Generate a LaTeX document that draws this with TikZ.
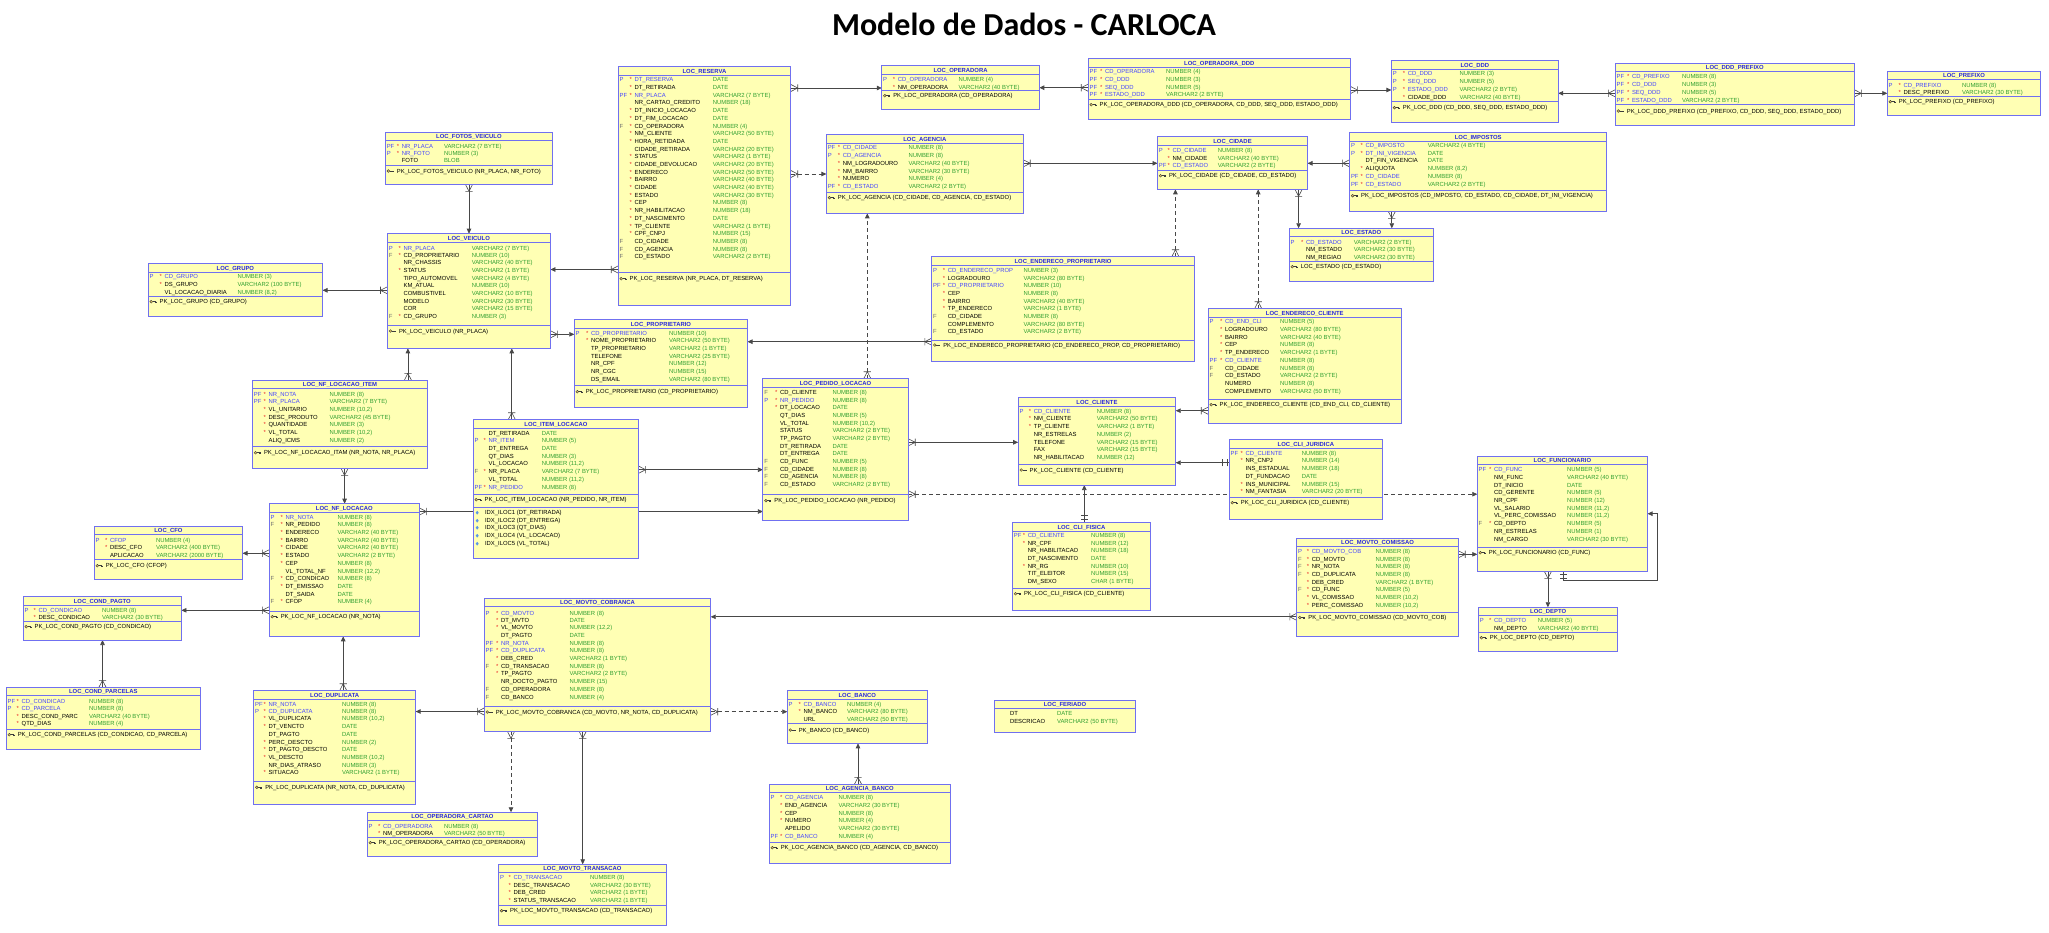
\documentclass[tikz,border=0pt]{standalone}
\usepackage{fontspec}
\setmainfont{Liberation Sans}
\newfontfamily\titlefont{Carlito}
\usetikzlibrary{arrows.meta,calc}
\pgfdeclarelayer{back}
\pgfdeclarelayer{lines}
\pgfsetlayers{back,lines,main}
\definecolor{boxfill}{RGB}{255,255,180}
\definecolor{boxline}{RGB}{112,112,240}
\definecolor{ttl}{RGB}{40,40,220}
\definecolor{pkc}{RGB}{70,70,255}
\definecolor{typc}{RGB}{50,160,50}
\definecolor{starc}{RGB}{235,40,40}
\definecolor{fmk}{RGB}{110,110,110}
\definecolor{relc}{RGB}{72,72,72}
\definecolor{keyc}{RGB}{60,60,60}
\definecolor{keyf}{RGB}{235,200,90}
\definecolor{idxc}{RGB}{90,150,230}
\tikzset{
  tbox/.style={draw=boxline, fill=boxfill, line width=0.9pt, inner sep=0pt, outer sep=0pt, rectangle, anchor=north west},
  tsep/.style={draw=boxline, line width=0.9pt},
  txt/.style={inner sep=0pt, outer sep=0pt, anchor=base west, font=\fontsize{5.9}{6}\selectfont},
  ttitle/.style={inner sep=0pt, outer sep=0pt, anchor=base, font=\fontsize{5.9}{6}\selectfont\bfseries, text=ttl},
  rel/.style={draw=relc, line width=0.75pt},
  opt/.style={rel, dash pattern=on 4pt off 3pt},
  tip/.style={-{Triangle[length=5pt,width=4.5pt]}},
  cfst/.style={draw=relc, line width=0.6pt},
  keyic/.pic={
    \draw[keyc, line width=0.4pt, fill=keyf] (-1.6,0) circle (1.4);
    \draw[keyc, line width=0.7pt] (-0.2,0) -- (3.4,0) (2.1,0) -- (2.1,1.3) (3.2,0) -- (3.2,1.3);
  },
  idxic/.pic={\fill[idxc] (0,-1.9) -- (1.5,0) -- (0,1.9) -- (-1.5,0) -- cycle;}
}
\newcount\tcnt
\newcommand\tput[4]{\global\advance\tcnt by 1\relax
  \node[txt,text=#3] (w\the\tcnt) at ({#1},{#2+2.1}) {#4};}
\newcommand\tb[9]{%
  \node[tbox,minimum width={#4pt-#2pt},minimum height={#5pt-#3pt}] (#1) at (#2,#3) {};
  \draw[tsep] (#2,#3+8.3) -- (#4,#3+8.3);
  \draw[tsep] (#2,#6) -- (#4,#6);
  \global\advance\tcnt by 1\relax
  \node[ttitle] (w\the\tcnt) at ({(#2+#4)/2},{#3+6.3}) {#7};
  \gdef\lx{#2}\gdef\nx{#8}\gdef\tx{#9}}
\newcommand\rowp[5]{\tput{\lx+1.4}{#1}{pkc}{#2}\tput{\nx-5}{#1}{starc}{#3}\tput{\nx}{#1}{pkc}{#4}\tput{\tx}{#1}{typc}{#5}}
\newcommand\rowf[4]{\tput{\lx+1.4}{#1}{fmk}{F}\tput{\nx-5}{#1}{starc}{#2}\tput{\nx}{#1}{black}{#3}\tput{\tx}{#1}{typc}{#4}}
\newcommand\rown[4]{\tput{\nx-5}{#1}{starc}{#2}\tput{\nx}{#1}{black}{#3}\tput{\tx}{#1}{typc}{#4}}
\newcommand\pkrow[2]{\pic at ({\lx+4.6},{#1}) {keyic}; \tput{\lx+11.5}{#1}{black}{#2}}
\newcommand\idxrow[2]{\pic at ({\lx+4},{#1}) {idxic}; \tput{\lx+11.8}{#1}{black}{#2}}
% crow's feet, named by the direction pointing away from the child box
\newcommand\cfE[1]{\draw[cfst] #1 ++(7,0) -- ++(-7,3.6) #1 ++(7,0) -- ++(-7,-3.6) #1 ++(7,3.6) -- ++(0,-7.2);}
\newcommand\cfW[1]{\draw[cfst] #1 ++(-7,0) -- ++(7,3.6) #1 ++(-7,0) -- ++(7,-3.6) #1 ++(-7,3.6) -- ++(0,-7.2);}
\newcommand\cfS[1]{\draw[cfst] #1 ++(0,7) -- ++(3.6,-7) #1 ++(0,7) -- ++(-3.6,-7) #1 ++(3.6,7) -- ++(-7.2,0);}
\newcommand\cfN[1]{\draw[cfst] #1 ++(0,-7) -- ++(3.6,7) #1 ++(0,-7) -- ++(-3.6,7) #1 ++(3.6,-7) -- ++(-7.2,0);}
\newcommand\obW[1]{\draw[cfst] #1 ++(-2.5,3.6) -- ++(0,-7.2) #1 ++(-7,3.6) -- ++(0,-7.2);}
\newcommand\obN[1]{\draw[cfst] #1 ++(3.6,-3) -- ++(-7.2,0) #1 ++(3.6,-7.3) -- ++(-7.2,0);}
\newcommand\obS[1]{\draw[cfst] #1 ++(3.6,3) -- ++(-7.2,0) #1 ++(3.6,6.5) -- ++(-7.2,0);}
\newcommand\cnE[3][rel]{\draw[#1,tip] #2 -- #3; \cfE{#2}}
\newcommand\cnW[3][rel]{\draw[#1,tip] #2 -- #3; \cfW{#2}}
\newcommand\cnS[3][rel]{\draw[#1,tip] #2 -- #3; \cfS{#2}}
\newcommand\cnN[3][rel]{\draw[#1,tip] #2 -- #3; \cfN{#2}}
\begin{document}
\catcode`\_=12
\begin{tikzpicture}[x=1pt,y=-1pt]
\useasboundingbox (0,0) rectangle (2049,932);
\begin{pgfonlayer}{back}
\fill[white] (0,0) rectangle (2049,932);
\end{pgfonlayer}
\node[font={\titlefont\fontsize{32}{36}\selectfont\bfseries}, anchor=base, inner sep=0pt] (title) at (1024,35) {Modelo de Dados - CARLOCA};

% ---------------- tables ----------------
\tb{fotos}{385.4}{132.3}{552.5}{184.3}{165}{LOC_FOTOS_VEICULO}{401.8}{444}
\rowp{146}{PF}{*}{NR_PLACA}{VARCHAR2 (7 BYTE)}
\rowp{153.7}{P}{*}{NR_FOTO}{NUMBER (3)}
\rown{160.7}{}{FOTO}{BLOB}
\pkrow{171}{PK_LOC_FOTOS_VEICULO (NR_PLACA, NR_FOTO)}

\tb{veic}{387.5}{233.7}{550.4}{348.3}{325.3}{LOC_VEICULO}{403.6}{471.8}
\rowp{248}{P}{*}{NR_PLACA}{VARCHAR2 (7 BYTE)}
\rowf{255.7}{*}{CD_PROPRIETARIO}{NUMBER (10)}
\rown{262.7}{}{NR_CHASSIS}{VARCHAR2 (40 BYTE)}
\rown{270.7}{*}{STATUS}{VARCHAR2 (1 BYTE)}
\rown{278.7}{}{TIPO_AUTOMOVEL}{VARCHAR2 (4 BYTE)}
\rown{285.7}{}{KM_ATUAL}{NUMBER (10)}
\rown{293.7}{}{COMBUSTIVEL}{VARCHAR2 (10 BYTE)}
\rown{301.7}{}{MODELO}{VARCHAR2 (30 BYTE)}
\rown{308.7}{}{COR}{VARCHAR2 (15 BYTE)}
\rowf{316.7}{*}{CD_GRUPO}{NUMBER (3)}
\pkrow{331}{PK_LOC_VEICULO (NR_PLACA)}

\tb{grupo}{148.2}{263.7}{322.5}{316.3}{296.7}{LOC_GRUPO}{164.6}{237.5}
\rowp{276.7}{P}{*}{CD_GRUPO}{NUMBER (3)}
\rown{284.7}{*}{DS_GRUPO}{VARCHAR2 (100 BYTE)}
\rown{292.7}{}{VL_LOCACAO_DIARIA}{NUMBER (8,2)}
\pkrow{301.7}{PK_LOC_GRUPO (CD_GRUPO)}

\tb{nfitem}{252.5}{380.3}{427.5}{468.3}{446.3}{LOC_NF_LOCACAO_ITEM}{268.6}{329.6}
\rowp{394.3}{PF}{*}{NR_NOTA}{NUMBER (8)}
\rowp{401.7}{PF}{*}{NR_PLACA}{VARCHAR2 (7 BYTE)}
\rown{409.7}{*}{VL_UNITARIO}{NUMBER (10,2)}
\rown{417.7}{*}{DESC_PRODUTO}{VARCHAR2 (45 BYTE)}
\rown{424.7}{*}{QUANTIDADE}{NUMBER (3)}
\rown{432.7}{*}{VL_TOTAL}{NUMBER (10,2)}
\rown{440.7}{}{ALIQ_ICMS}{NUMBER (2)}
\pkrow{452.7}{PK_LOC_NF_LOCACAO_ITAM (NR_NOTA, NR_PLACA)}

\tb{nf}{269.3}{503.7}{419.3}{636.3}{611.3}{LOC_NF_LOCACAO}{285.7}{337.5}
\rowp{517.7}{P}{*}{NR_NOTA}{NUMBER (8)}
\rowf{524.7}{*}{NR_PEDIDO}{NUMBER (8)}
\rown{532.7}{*}{ENDERECO}{VARCHAR2 (40 BYTE)}
\rown{540.7}{*}{BAIRRO}{VARCHAR2 (40 BYTE)}
\rown{547.7}{*}{CIDADE}{VARCHAR2 (40 BYTE)}
\rown{555.7}{*}{ESTADO}{VARCHAR2 (2 BYTE)}
\rown{563.7}{*}{CEP}{NUMBER (8)}
\rown{571.7}{}{VL_TOTAL_NF}{NUMBER (12,2)}
\rowf{578.7}{*}{CD_CONDICAO}{NUMBER (8)}
\rown{586.7}{*}{DT_EMISSAO}{DATE}
\rown{594.7}{}{DT_SAIDA}{DATE}
\rowf{601.7}{*}{CFOP}{NUMBER (4)}
\pkrow{616.7}{PK_LOC_NF_LOCACAO (NR_NOTA)}

\tb{cfo}{94.3}{526.3}{242.5}{579.3}{559.7}{LOC_CFO}{110}{156}
\rowp{540.7}{P}{*}{CFOP}{NUMBER (4)}
\rown{547.7}{*}{DESC_CFO}{VARCHAR2 (400 BYTE)}
\rown{555.7}{}{APLICACAO}{VARCHAR2 (2000 BYTE)}
\pkrow{565.7}{PK_LOC_CFO (CFOP)}

\tb{cpag}{23.2}{596.7}{181.4}{640}{621.7}{LOC_COND_PAGTO}{38.6}{102}
\rowp{610.7}{P}{*}{CD_CONDICAO}{NUMBER (8)}
\rown{617.7}{*}{DESC_CONDICAO}{VARCHAR2 (30 BYTE)}
\pkrow{626.7}{PK_LOC_COND_PAGTO (CD_CONDICAO)}

\tb{cparc}{6.3}{687.3}{200.3}{749.3}{729}{LOC_COND_PARCELAS}{21.7}{89}
\rowp{701.7}{PF}{*}{CD_CONDICAO}{NUMBER (8)}
\rowp{708.7}{P}{*}{CD_PARCELA}{NUMBER (8)}
\rown{716}{*}{DESC_COND_PARC}{VARCHAR2 (40 BYTE)}
\rown{723.7}{*}{QTD_DIAS}{NUMBER (4)}
\pkrow{734.7}{PK_LOC_COND_PARCELAS (CD_CONDICAO, CD_PARCELA)}

\tb{dup}{253.8}{690.7}{415.6}{804.3}{781}{LOC_DUPLICATA}{268.5}{342}
\rowp{704}{PF}{*}{NR_NOTA}{NUMBER (8)}
\rowp{711.7}{P}{*}{CD_DUPLICATA}{NUMBER (8)}
\rown{718.7}{*}{VL_DUPLICATA}{NUMBER (10,2)}
\rown{726.7}{*}{DT_VENCTO}{DATE}
\rown{734.7}{}{DT_PAGTO}{DATE}
\rown{742.7}{*}{PERC_DESCTO}{NUMBER (2)}
\rown{749.7}{*}{DT_PAGTO_DESCTO}{DATE}
\rown{757.7}{*}{VL_DESCTO}{NUMBER (10,2)}
\rown{765.7}{}{NR_DIAS_ATRASO}{NUMBER (3)}
\rown{772.7}{*}{SITUACAO}{VARCHAR2 (1 BYTE)}
\pkrow{787.3}{PK_LOC_DUPLICATA (NR_NOTA, CD_DUPLICATA)}

\tb{mcob}{484.3}{598.3}{710.7}{731.3}{706.3}{LOC_MOVTO_COBRANCA}{501}{569.6}
\rowp{613}{P}{*}{CD_MOVTO}{NUMBER (8)}
\rown{620.7}{*}{DT_MVTO}{DATE}
\rown{627.7}{*}{VL_MOVTO}{NUMBER (12,2)}
\rown{635.7}{}{DT_PAGTO}{DATE}
\rowp{643.7}{PF}{*}{NR_NOTA}{NUMBER (8)}
\rowp{650.7}{PF}{*}{CD_DUPLICATA}{NUMBER (8)}
\rown{658.7}{*}{DEB_CRED}{VARCHAR2 (1 BYTE)}
\rowf{666.7}{*}{CD_TRANSACAO}{NUMBER (8)}
\rown{673.7}{*}{TP_PAGTO}{VARCHAR2 (2 BYTE)}
\rown{681.7}{}{NR_DOCTO_PAGTO}{NUMBER (15)}
\rowf{689.7}{}{CD_OPERADORA}{NUMBER (8)}
\rowf{697.7}{}{CD_BANCO}{NUMBER (4)}
\pkrow{712}{PK_LOC_MOVTO_COBRANCA (CD_MOVTO, NR_NOTA, CD_DUPLICATA)}

\tb{opcart}{367.3}{812.3}{537.4}{856}{837}{LOC_OPERADORA_CARTAO}{383.1}{444}
\rowp{826.3}{P}{*}{CD_OPERADORA}{NUMBER (8)}
\rown{833.7}{*}{NM_OPERADORA}{VARCHAR2 (50 BYTE)}
\pkrow{842.7}{PK_LOC_OPERADORA_CARTAO (CD_OPERADORA)}

\tb{mtrans}{498.6}{864.3}{666.3}{925.3}{905.3}{LOC_MOVTO_TRANSACAO}{513.6}{590}
\rowp{877.7}{P}{*}{CD_TRANSACAO}{NUMBER (8)}
\rown{885.7}{*}{DESC_TRANSACAO}{VARCHAR2 (30 BYTE)}
\rown{892.7}{*}{DEB_CRED}{VARCHAR2 (1 BYTE)}
\rown{900.7}{*}{STATUS_TRANSACAO}{VARCHAR2 (1 BYTE)}
\pkrow{910.7}{PK_LOC_MOVTO_TRANSACAO (CD_TRANSACAO)}

\tb{banco}{787.3}{690.7}{927.3}{743.3}{723.3}{LOC_BANCO}{803.7}{847}
\rowp{704.7}{P}{*}{CD_BANCO}{NUMBER (4)}
\rown{711.7}{*}{NM_BANCO}{VARCHAR2 (80 BYTE)}
\rown{719.7}{}{URL}{VARCHAR2 (50 BYTE)}
\pkrow{730}{PK_BANCO (CD_BANCO)}

\tb{agbanco}{769.3}{784.3}{950.3}{863.3}{842.7}{LOC_AGENCIA_BANCO}{785}{838.7}
\rowp{797.7}{P}{*}{CD_AGENCIA}{NUMBER (8)}
\rown{805.7}{*}{END_AGENCIA}{VARCHAR2 (30 BYTE)}
\rown{813.3}{*}{CEP}{NUMBER (8)}
\rown{820.7}{*}{NUMERO}{NUMBER (4)}
\rown{828.7}{}{APELIDO}{VARCHAR2 (30 BYTE)}
\rowp{836.3}{PF}{*}{CD_BANCO}{NUMBER (4)}
\pkrow{847.7}{PK_LOC_AGENCIA_BANCO (CD_AGENCIA, CD_BANCO)}

\tb{feriado}{994.3}{700.3}{1135.7}{732.3}{708.6}{LOC_FERIADO}{1010}{1057}
\rown{713.7}{}{DT}{DATE}
\rown{721.7}{}{DESCRICAO}{VARCHAR2 (50 BYTE)}

\tb{reserva}{618.2}{66.7}{790.7}{305.3}{272.7}{LOC_RESERVA}{634.6}{712.9}
\rowp{79.7}{P}{*}{DT_RESERVA}{DATE}
\rown{87.7}{*}{DT_RETIRADA}{DATE}
\rowp{95.7}{PF}{*}{NR_PLACA}{VARCHAR2 (7 BYTE)}
\rown{102.7}{}{NR_CARTAO_CREDITO}{NUMBER (18)}
\rown{110.7}{*}{DT_INICIO_LOCACAO}{DATE}
\rown{118.7}{*}{DT_FIM_LOCACAO}{DATE}
\rowf{126.7}{*}{CD_OPERADORA}{NUMBER (4)}
\rown{133.7}{*}{NM_CLIENTE}{VARCHAR2 (50 BYTE)}
\rown{141.7}{*}{HORA_RETIDADA}{DATE}
\rown{149.7}{}{CIDADE_RETIRADA}{VARCHAR2 (20 BYTE)}
\rown{156.7}{*}{STATUS}{VARCHAR2 (1 BYTE)}
\rown{164.7}{*}{CIDADE_DEVOLUCAO}{VARCHAR2 (20 BYTE)}
\rown{172.7}{*}{ENDERECO}{VARCHAR2 (50 BYTE)}
\rown{179.7}{*}{BAIRRO}{VARCHAR2 (40 BYTE)}
\rown{187.7}{*}{CIDADE}{VARCHAR2 (40 BYTE)}
\rown{195.7}{*}{ESTADO}{VARCHAR2 (30 BYTE)}
\rown{202.7}{*}{CEP}{NUMBER (8)}
\rown{210.7}{*}{NR_HABILITACAO}{NUMBER (18)}
\rown{218.7}{*}{DT_NASCIMENTO}{DATE}
\rown{226.7}{*}{TP_CLIENTE}{VARCHAR2 (1 BYTE)}
\rown{233.7}{*}{CPF_CNPJ}{NUMBER (15)}
\rowf{241.7}{}{CD_CIDADE}{NUMBER (8)}
\rowf{249.7}{}{CD_AGENCIA}{NUMBER (8)}
\rowf{256.7}{}{CD_ESTADO}{VARCHAR2 (2 BYTE)}
\pkrow{278.7}{PK_LOC_RESERVA (NR_PLACA, DT_RESERVA)}

\tb{oper}{881.8}{65.7}{1039.3}{109.3}{90.3}{LOC_OPERADORA}{897.9}{958.6}
\rowp{79.7}{P}{*}{CD_OPERADORA}{NUMBER (4)}
\rown{87.7}{*}{NM_OPERADORA}{VARCHAR2 (40 BYTE)}
\pkrow{95.7}{PK_LOC_OPERADORA (CD_OPERADORA)}

\tb{agencia}{826.4}{134.7}{1023.2}{213.3}{192.3}{LOC_AGENCIA}{842.9}{908.6}
\rowp{147.7}{PF}{*}{CD_CIDADE}{NUMBER (8)}
\rowp{155.7}{P}{*}{CD_AGENCIA}{NUMBER (8)}
\rown{163.7}{*}{NM_LOGRADOURO}{VARCHAR2 (40 BYTE)}
\rown{171.7}{*}{NM_BAIRRO}{VARCHAR2 (30 BYTE)}
\rown{178.7}{*}{NUMERO}{NUMBER (4)}
\rowp{186.7}{PF}{*}{CD_ESTADO}{VARCHAR2 (2 BYTE)}
\pkrow{197.7}{PK_LOC_AGENCIA (CD_CIDADE, CD_AGENCIA, CD_ESTADO)}

\tb{prop}{574.3}{319.7}{747.5}{407.3}{385.7}{LOC_PROPRIETARIO}{591}{669}
\rowp{333.7}{P}{*}{CD_PROPRIETARIO}{NUMBER (10)}
\rown{340.7}{*}{NOME_PROPRIETARIO}{VARCHAR2 (50 BYTE)}
\rown{348.7}{}{TP_PROPRIETARIO}{VARCHAR2 (1 BYTE)}
\rown{356.7}{}{TELEFONE}{VARCHAR2 (25 BYTE)}
\rown{363.7}{}{NR_CPF}{NUMBER (12)}
\rown{371.7}{}{NR_CGC}{NUMBER (15)}
\rown{379.7}{}{DS_EMAIL}{VARCHAR2 (80 BYTE)}
\pkrow{391.7}{PK_LOC_PROPRIETARIO (CD_PROPRIETARIO)}

\tb{endprop}{931.8}{256.7}{1194.3}{361.7}{340}{LOC_ENDERECO_PROPRIETARIO}{947.9}{1023.6}
\rowp{270.7}{P}{*}{CD_ENDERECO_PROP}{NUMBER (3)}
\rown{278.7}{*}{LOGRADOURO}{VARCHAR2 (80 BYTE)}
\rowp{285.7}{PF}{*}{CD_PROPRIETARIO}{NUMBER (10)}
\rown{293.7}{*}{CEP}{NUMBER (8)}
\rown{301.7}{*}{BAIRRO}{VARCHAR2 (40 BYTE)}
\rown{308.7}{*}{TP_ENDERECO}{VARCHAR2 (1 BYTE)}
\rowf{316.7}{}{CD_CIDADE}{NUMBER (8)}
\rown{324.7}{}{COMPLEMENTO}{VARCHAR2 (80 BYTE)}
\rowf{331.7}{}{CD_ESTADO}{VARCHAR2 (2 BYTE)}
\pkrow{345}{PK_LOC_ENDERECO_PROPRIETARIO (CD_ENDERECO_PROP, CD_PROPRIETARIO)}

\tb{opddd}{1088.2}{58.7}{1350.4}{119.3}{99.3}{LOC_OPERADORA_DDD}{1105}{1166.1}
\rowp{71.7}{PF}{*}{CD_OPERADORA}{NUMBER (4)}
\rowp{79.7}{PF}{*}{CD_DDD}{NUMBER (3)}
\rowp{87.7}{PF}{*}{SEQ_DDD}{NUMBER (5)}
\rowp{94.7}{PF}{*}{ESTADO_DDD}{VARCHAR2 (2 BYTE)}
\pkrow{104.7}{PK_LOC_OPERADORA_DDD (CD_OPERADORA, CD_DDD, SEQ_DDD, ESTADO_DDD)}

\tb{ddd}{1391.4}{60.7}{1558.2}{122.3}{101.3}{LOC_DDD}{1407.9}{1459.6}
\rowp{73.7}{P}{*}{CD_DDD}{NUMBER (3)}
\rowp{81.7}{P}{*}{SEQ_DDD}{NUMBER (5)}
\rowp{89.7}{P}{*}{ESTADO_DDD}{VARCHAR2 (2 BYTE)}
\rown{97.7}{*}{CIDADE_DDD}{VARCHAR2 (40 BYTE)}
\pkrow{107.7}{PK_LOC_DDD (CD_DDD, SEQ_DDD, ESTADO_DDD)}

\tb{dddpref}{1615.3}{63.3}{1854.3}{125.3}{104.3}{LOC_DDD_PREFIXO}{1632}{1682}
\rowp{76.7}{PF}{*}{CD_PREFIXO}{NUMBER (8)}
\rowp{84.7}{PF}{*}{CD_DDD}{NUMBER (3)}
\rowp{92.7}{PF}{*}{SEQ_DDD}{NUMBER (5)}
\rowp{100.2}{PF}{*}{ESTADO_DDD}{VARCHAR2 (2 BYTE)}
\pkrow{111}{PK_LOC_DDD_PREFIXO (CD_PREFIXO, CD_DDD, SEQ_DDD, ESTADO_DDD)}

\tb{prefixo}{1887.3}{71.3}{2040.7}{115.3}{96.3}{LOC_PREFIXO}{1903.7}{1962}
\rowp{85.3}{P}{*}{CD_PREFIXO}{NUMBER (8)}
\rown{92.5}{*}{DESC_PREFIXO}{VARCHAR2 (30 BYTE)}
\pkrow{101.7}{PK_LOC_PREFIXO (CD_PREFIXO)}

\tb{cidade}{1157.5}{136.7}{1307.5}{189.3}{170}{LOC_CIDADE}{1172.5}{1217.9}
\rowp{150.7}{P}{*}{CD_CIDADE}{NUMBER (8)}
\rown{158.7}{*}{NM_CIDADE}{VARCHAR2 (40 BYTE)}
\rowp{165.7}{PF}{*}{CD_ESTADO}{VARCHAR2 (2 BYTE)}
\pkrow{175.7}{PK_LOC_CIDADE (CD_CIDADE, CD_ESTADO)}

\tb{impostos}{1349.6}{132.7}{1606.8}{211.3}{190.7}{LOC_IMPOSTOS}{1365.7}{1427.9}
\rowp{145.7}{P}{*}{CD_IMPOSTO}{VARCHAR2 (4 BYTE)}
\rowp{153.7}{P}{*}{DT_INI_VIGENCIA}{DATE}
\rown{160.7}{}{DT_FIN_VIGENCIA}{DATE}
\rown{168.7}{*}{ALIQUOTA}{NUMBER (8,2)}
\rowp{176.7}{PF}{*}{CD_CIDADE}{NUMBER (8)}
\rowp{184.7}{PF}{*}{CD_ESTADO}{VARCHAR2 (2 BYTE)}
\pkrow{195.7}{PK_LOC_IMPOSTOS (CD_IMPOSTO, CD_ESTADO, CD_CIDADE, DT_INI_VIGENCIA)}

\tb{estado}{1289.3}{228.3}{1433.2}{281.3}{261.7}{LOC_ESTADO}{1306}{1353.9}
\rowp{242.7}{P}{*}{CD_ESTADO}{VARCHAR2 (2 BYTE)}
\rown{249.7}{}{NM_ESTADO}{VARCHAR2 (30 BYTE)}
\rown{257.7}{}{NM_REGIAO}{VARCHAR2 (30 BYTE)}
\pkrow{266.7}{LOC_ESTADO (CD_ESTADO)}

\tb{endcli}{1208.2}{308.7}{1401.4}{423.3}{399}{LOC_ENDERECO_CLIENTE}{1225}{1280}
\rowp{321.7}{P}{*}{CD_END_CLI}{NUMBER (5)}
\rown{329.7}{*}{LOGRADOURO}{VARCHAR2 (80 BYTE)}
\rown{337.7}{*}{BAIRRO}{VARCHAR2 (40 BYTE)}
\rown{344.7}{*}{CEP}{NUMBER (8)}
\rown{352.7}{*}{TP_ENDERECO}{VARCHAR2 (1 BYTE)}
\rowp{360.7}{PF}{*}{CD_CLIENTE}{NUMBER (8)}
\rowf{368.7}{}{CD_CIDADE}{NUMBER (8)}
\rowf{375.7}{}{CD_ESTADO}{VARCHAR2 (2 BYTE)}
\rown{383.7}{}{NUMERO}{NUMBER (8)}
\rown{391.7}{}{COMPLEMENTO}{VARCHAR2 (50 BYTE)}
\pkrow{404.7}{PK_LOC_ENDERECO_CLIENTE (CD_END_CLI, CD_CLIENTE)}

\tb{cliente}{1018.2}{397.7}{1175.7}{485}{464.3}{LOC_CLIENTE}{1033.9}{1096.8}
\rowp{411.3}{P}{*}{CD_CLIENTE}{NUMBER (8)}
\rown{418.7}{*}{NM_CLIENTE}{VARCHAR2 (50 BYTE)}
\rown{426.7}{*}{TP_CLIENTE}{VARCHAR2 (1 BYTE)}
\rown{434.7}{}{NR_ESTRELAS}{NUMBER (2)}
\rown{442.7}{}{TELEFONE}{VARCHAR2 (15 BYTE)}
\rown{449.7}{}{FAX}{VARCHAR2 (15 BYTE)}
\rown{457.7}{}{NR_HABILITACAO}{NUMBER (12)}
\pkrow{470}{PK_LOC_CLIENTE (CD_CLIENTE)}

\tb{clij}{1229.3}{439.7}{1382.5}{519.3}{497.3}{LOC_CLI_JURIDICA}{1245.7}{1301.8}
\rowp{453.7}{PF}{*}{CD_CLIENTE}{NUMBER (8)}
\rown{460.7}{*}{NR_CNPJ}{NUMBER (14)}
\rown{468.7}{}{INS_ESTADUAL}{NUMBER (18)}
\rown{476.7}{}{DT_FUNDACAO}{DATE}
\rown{484.7}{*}{INS_MUNICIPAL}{NUMBER (15)}
\rown{491.7}{*}{NM_FANTASIA}{VARCHAR2 (20 BYTE)}
\pkrow{502.7}{PK_LOC_CLI_JURIDICA (CD_CLIENTE)}

\tb{clif}{1012.5}{522.7}{1150.4}{610.3}{588.3}{LOC_CLI_FISICA}{1027.9}{1091}
\rowp{535.7}{PF}{*}{CD_CLIENTE}{NUMBER (8)}
\rown{543.7}{*}{NR_CPF}{NUMBER (12)}
\rown{550.7}{}{NR_HABILITACAO}{NUMBER (18)}
\rown{558.7}{}{DT_NASCIMENTO}{DATE}
\rown{566.7}{*}{NR_RG}{NUMBER (10)}
\rown{573.7}{}{TIT_ELEITOR}{NUMBER (15)}
\rown{581.7}{}{DM_SEXO}{CHAR (1 BYTE)}
\pkrow{593.7}{PK_LOC_CLI_FISICA (CD_CLIENTE)}

\tb{mcom}{1296.8}{538.3}{1458.2}{636}{612.3}{LOC_MOVTO_COMISSAO}{1311.8}{1375.7}
\rowp{551.7}{P}{*}{CD_MOVTO_COB}{NUMBER (8)}
\rowf{559.7}{*}{CD_MOVTO}{NUMBER (8)}
\rowf{566.7}{*}{NR_NOTA}{NUMBER (8)}
\rowf{574.7}{*}{CD_DUPLICATA}{NUMBER (8)}
\rown{582.7}{*}{DEB_CRED}{VARCHAR2 (1 BYTE)}
\rowf{589.7}{*}{CD_FUNC}{NUMBER (5)}
\rown{597.7}{*}{VL_COMISSAO}{NUMBER (10,2)}
\rown{605.7}{*}{PERC_COMISSAO}{NUMBER (10,2)}
\pkrow{617.5}{PK_LOC_MOVTO_COMISSAO (CD_MOVTO_COB)}

\tb{func}{1477.3}{456.3}{1647.5}{571.3}{547.3}{LOC_FUNCIONARIO}{1494.2}{1567.1}
\rowp{469.7}{PF}{*}{CD_FUNC}{NUMBER (5)}
\rown{477.7}{}{NM_FUNC}{VARCHAR2 (40 BYTE)}
\rown{485.7}{}{DT_INICIO}{DATE}
\rown{492.7}{}{CD_GERENTE}{NUMBER (5)}
\rown{500.7}{}{NR_CPF}{NUMBER (12)}
\rown{508.7}{}{VL_SALARIO}{NUMBER (11,2)}
\rown{515.7}{}{VL_PERC_COMISSAO}{NUMBER (11,2)}
\rowf{523.7}{*}{CD_DEPTO}{NUMBER (5)}
\rown{531.7}{}{NR_ESTRELAS}{NUMBER (1)}
\rown{539.7}{}{NM_CARGO}{VARCHAR2 (30 BYTE)}
\pkrow{552.7}{PK_LOC_FUNCIONARIO (CD_FUNC)}

\tb{depto}{1478.4}{607.3}{1617.8}{651.3}{632.3}{LOC_DEPTO}{1494.2}{1537.8}
\rowp{620.7}{P}{*}{CD_DEPTO}{NUMBER (5)}
\rown{628.7}{}{NM_DEPTO}{VARCHAR2 (40 BYTE)}
\pkrow{637.7}{PK_LOC_DEPTO (CD_DEPTO)}

\tb{item}{473.2}{419.7}{638.6}{558.3}{494}{LOC_ITEM_LOCACAO}{488.6}{541.8}
\draw[tsep] (item.west |- 0,507) -- (item.east |- 0,507);
\rown{433.7}{}{DT_RETIRADA}{DATE}
\rowp{440.7}{P}{*}{NR_ITEM}{NUMBER (5)}
\rown{448.7}{}{DT_ENTREGA}{DATE}
\rown{456.7}{}{QT_DIAS}{NUMBER (3)}
\rown{463.7}{}{VL_LOCACAO}{NUMBER (11,2)}
\rowf{471.7}{*}{NR_PLACA}{VARCHAR2 (7 BYTE)}
\rown{479.7}{}{VL_TOTAL}{NUMBER (11,2)}
\rowp{487.7}{PF}{*}{NR_PEDIDO}{NUMBER (8)}
\pkrow{499.7}{PK_LOC_ITEM_LOCACAO (NR_PEDIDO, NR_ITEM)}
\idxrow{512.7}{IDX_ILOC1 (DT_RETIRADA)}
\idxrow{520.7}{IDX_ILOC2 (DT_ENTREGA)}
\idxrow{527.7}{IDX_ILOC3 (QT_DIAS)}
\idxrow{535.7}{IDX_ILOC4 (VL_LOCACAO)}
\idxrow{543.7}{IDX_ILOC5 (VL_TOTAL)}

\tb{pedido}{762.9}{378.7}{908.2}{520.3}{494}{LOC_PEDIDO_LOCACAO}{780}{832.5}
\rowf{392.7}{*}{CD_CLIENTE}{NUMBER (8)}
\rowp{400.7}{P}{*}{NR_PEDIDO}{NUMBER (8)}
\rown{407.7}{*}{DT_LOCACAO}{DATE}
\rown{415.7}{}{QT_DIAS}{NUMBER (5)}
\rown{423.7}{}{VL_TOTAL}{NUMBER (10,2)}
\rown{430.7}{}{STATUS}{VARCHAR2 (2 BYTE)}
\rown{438.7}{}{TP_PAGTO}{VARCHAR2 (2 BYTE)}
\rown{446.7}{}{DT_RETIRADA}{DATE}
\rown{453.7}{}{DT_ENTREGA}{DATE}
\rowf{461.7}{}{CD_FUNC}{NUMBER (5)}
\rowf{469.7}{}{CD_CIDADE}{NUMBER (8)}
\rowf{476.7}{}{CD_AGENCIA}{NUMBER (8)}
\rowf{484.7}{}{CD_ESTADO}{VARCHAR2 (2 BYTE)}
\pkrow{500.7}{PK_LOC_PEDIDO_LOCACAO (NR_PEDIDO)}

% ---------------- relationships ----------------
\begin{pgfonlayer}{lines}
\cnS{(fotos.south -| 469,0)}{(veic.north -| 469,0)}
\cnW{(veic.west |- 0,290.3)}{(grupo.east |- 0,290.3)}
\cnW{(reserva.west |- 0,269.5)}{(veic.east |- 0,269.5)}
\cnE{(veic.east |- 0,334.3)}{(prop.west |- 0,334.3)}
\cnN{(nfitem.north -| 407.9,0)}{(veic.south -| 407.9,0)}
\cnN{(item.north -| 511.8,0)}{(veic.south -| 511.8,0)}
\cnS{(nfitem.south -| 344.6,0)}{(nf.north -| 344.6,0)}
\cnE{(nf.east |- 0,511.5)}{(pedido.west |- 0,511.5)}
\cnW{(nf.west |- 0,553.3)}{(cfo.east |- 0,553.3)}
\cnW{(nf.west |- 0,610.3)}{(cpag.east |- 0,610.3)}
\cnN{(cparc.north -| 102.5,0)}{(cpag.south -| 102.5,0)}
\cnN{(dup.north -| 343.2,0)}{(nf.south -| 343.2,0)}
\cnW{(mcob.west |- 0,711.5)}{(dup.east |- 0,711.5)}
\cnE[opt]{(mcob.east |- 0,711.7)}{(banco.west |- 0,711.7)}
\cnS[opt]{(mcob.south -| 511,0)}{(opcart.north -| 511,0)}
\cnS{(mcob.south -| 582.7,0)}{(mtrans.north -| 582.7,0)}
\cnN{(agbanco.north -| 858,0)}{(banco.south -| 858,0)}
\cnE{(reserva.east |- 0,88)}{(oper.west |- 0,88)}
\cnE[opt]{(reserva.east |- 0,174)}{(agencia.west |- 0,174)}
\cnW{(opddd.west |- 0,87.7)}{(oper.east |- 0,87.7)}
\cnE{(opddd.east |- 0,90)}{(ddd.west |- 0,90)}
\cnW{(dddpref.west |- 0,93.3)}{(ddd.east |- 0,93.3)}
\cnE{(dddpref.east |- 0,93.3)}{(prefixo.west |- 0,93.3)}
\cnE{(agencia.east |- 0,163.3)}{(cidade.west |- 0,163.3)}
\cnW{(impostos.west |- 0,163.3)}{(cidade.east |- 0,163.3)}
\cnS{(cidade.south -| 1298.6,0)}{(estado.north -| 1298.6,0)}
\cnS{(impostos.south -| 1391.8,0)}{(estado.north -| 1391.8,0)}
\cnN[opt]{(endprop.north -| 1175.4,0)}{(cidade.south -| 1175.4,0)}
\cnN[opt]{(endcli.north -| 1258.2,0)}{(cidade.south -| 1258.2,0)}
\cnW{(endprop.west |- 0,341.7)}{(prop.east |- 0,341.7)}
\cnN[opt]{(pedido.north -| 867.3,0)}{(agencia.south -| 867.3,0)}
\cnE{(item.east |- 0,469.7)}{(pedido.west |- 0,469.7)}
\cnE{(pedido.east |- 0,442.3)}{(cliente.west |- 0,442.3)}
\cnE[opt]{(pedido.east |- 0,494.2)}{(func.west |- 0,494.2)}
\cnW{(endcli.west |- 0,410.7)}{(cliente.east |- 0,410.7)}
\draw[rel,tip] (clij.west |- 0,462.7) -- (cliente.east |- 0,462.7);
\obW{(clij.west |- 0,462.7)}
\draw[rel,tip] (clif.north -| 1084.3,0) -- (cliente.south -| 1084.3,0);
\obN{(clif.north -| 1084.3,0)}
\cnE{(mcom.east |- 0,554.3)}{(func.west |- 0,554.3)}
\cnW{(mcom.west |- 0,616.8)}{(mcob.east |- 0,616.8)}
\cnS{(func.south -| 1547.9,0)}{(depto.north -| 1547.9,0)}
\draw[rel,tip] (func.south -| 1563.3,0) |- (1657.6,580.3) |- (func.east |- 0,513.7);
\obS{(func.south -| 1563.3,0)}
\end{pgfonlayer}
\end{tikzpicture}
\end{document}
